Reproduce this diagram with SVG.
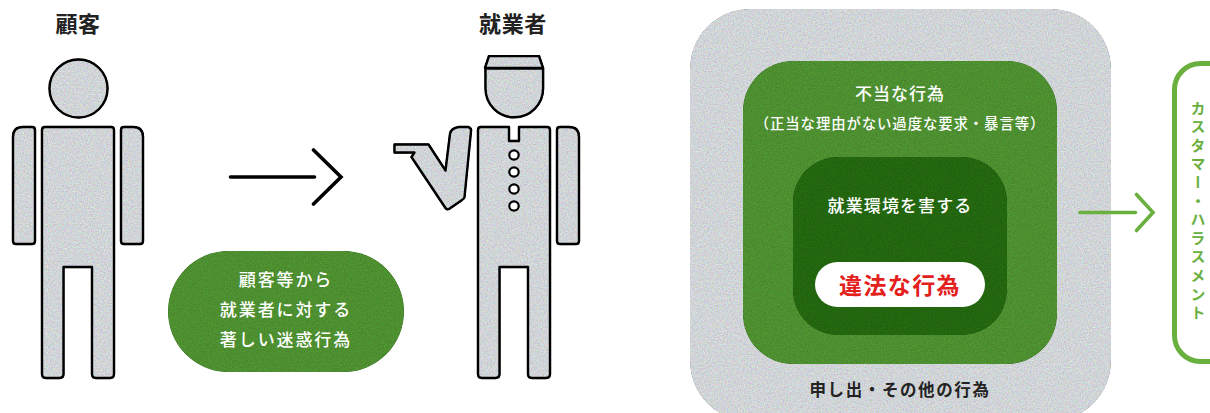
<svg xmlns="http://www.w3.org/2000/svg" width="1210" height="413" viewBox="0 0 1210 413">
<style>
text{font-family:"Noto Sans CJK JP","Noto Sans",sans-serif;text-anchor:middle}
.fig{fill:#d0d4d7;stroke:#000;stroke-width:2.4;stroke-linejoin:round;filter:url(#grain)}
.fig2{fill:#d0d4d7;filter:url(#grain)}
.title{font-size:22px;font-weight:700;fill:#222;letter-spacing:.6px}
.w{fill:#fff;font-weight:500}
.bl{fill:none;stroke:#000;stroke-width:3.6;stroke-linecap:round;stroke-linejoin:miter}
.gr{fill:none;stroke:#69b03e;stroke-width:3.6;stroke-linecap:round;stroke-linejoin:miter}
.mid{fill:#4d8f30;filter:url(#grain)}
.dark{fill:#23660f;filter:url(#grain)}
</style>
<defs>
<filter id="grain" x="-5%" y="-5%" width="110%" height="110%" color-interpolation-filters="sRGB">
<feTurbulence type="fractalNoise" baseFrequency="0.7" numOctaves="2" seed="4" result="n"/>
<feColorMatrix in="n" type="matrix" values="1.3 0 0 0 -0.15  0 1.3 0 0 -0.15  0 0 1.3 0 -0.15  0 0 0 0 1" result="m"/>
<feComposite in="SourceGraphic" in2="m" operator="arithmetic" k1="0.3" k2="0.85" k3="0" k4="0"/>
</filter>
</defs>

<g id="customer">
<text class="title" x="78" y="32">顧客</text>
<circle class="fig" cx="78.500" cy="88.500" r="29"/>
<path class="fig" d="M45 127H111Q114 127 114 130V374Q114 378 110 378H96Q92 378 92 374V267H63.500V374Q63.500 378 59.500 378H46Q42 378 42 374V130Q42 127 45 127Z"/>
<path class="fig" d="M32 127Q35 127 35 130V241Q35 244 32 244H16Q13 244 13 241V137Q13 127 23 127Z"/>
<path class="fig" d="M124 127Q121 127 121 130V241Q121 244 124 244H140Q143 244 143 241V137Q143 127 133 127Z"/>
</g>

<g id="worker">
<text class="title" x="513" y="32">就業者</text>
<path class="fig" d="M489 56H539L543 68H485Z"/>
<path class="fig" d="M485.500 68.500V88.500A28.800 28.800 0 0 0 543.100 88.500V68.500Z"/>
<path class="fig" d="M481 127H509V141H519V127H547Q550 127 550 130V374Q550 378 546 378H532Q528 378 528 374V267H499.500V374Q499.500 378 495.500 378H482Q478 378 478 374V130Q478 127 481 127Z"/>
<circle cx="514" cy="155" r="4.700" fill="#fff" stroke="#000" stroke-width="2.200"/>
<circle cx="514" cy="172" r="4.700" fill="#fff" stroke="#000" stroke-width="2.200"/>
<circle cx="514" cy="189" r="4.700" fill="#fff" stroke="#000" stroke-width="2.200"/>
<circle cx="514" cy="206" r="4.700" fill="#fff" stroke="#000" stroke-width="2.200"/>
<path class="fig" d="M560 127Q557 127 557 130V241Q557 244 560 244H576Q579 244 579 241V137Q579 127 569 127Z"/>
<path class="fig" d="M394.500 144.500H428.500L445.500 170.500L450 134Q451 128 459 127L468 127Q471.500 128 471 131L464.500 197Q464 199 462 200L449 209Q447 210 445.500 208L411.500 157L414.500 152.500H394.500Z"/>
</g>

<g id="summary">
<rect class="mid" x="168" y="251" width="236" height="121" rx="60.500"/>
<text class="w" x="286" y="286" font-size="17" letter-spacing="1.900">顧客等から</text>
<text class="w" x="286" y="316" font-size="17" letter-spacing="1.900">就業者に対する</text>
<text class="w" x="286" y="346" font-size="17" letter-spacing="1.900">著しい迷惑行為</text>
</g>

<g id="other">
<rect class="fig2" x="690" y="9" width="421" height="412" rx="60"/>
<text x="900" y="396" font-size="16.500" font-weight="700" fill="#222" letter-spacing="1.600">申し出・その他の行為</text>
</g>
<g id="improper">
<rect class="mid" x="743" y="61" width="314" height="303" rx="50"/>
<text class="w" x="900" y="100" font-size="17" font-weight="700" letter-spacing="1">不当な行為</text>
<text class="w" x="900" y="129" font-size="14.400" letter-spacing=".9" font-weight="400">（正当な理由がない過度な要求・暴言等）</text>
</g>
<g id="environment">
<rect class="dark" x="793" y="157" width="214" height="178" rx="45"/>
<text class="w" x="900" y="212" font-size="17" letter-spacing="1.100">就業環境を害する</text>
</g>
<g id="illegal">
<rect x="815" y="262" width="170" height="45" rx="22.500" fill="#fff"/>
<text x="900" y="294" font-size="23" font-weight="700" fill="#e3201b" letter-spacing="1.400">違法な行為</text>
</g>
<g id="harassment">
<rect x="1174.500" y="63.500" width="80" height="298" rx="26" fill="#fff" stroke="#69b03e" stroke-width="5"/>
<text x="1198" y="212" font-size="15" font-weight="700" fill="#69b03e" letter-spacing="3.600" style="writing-mode:vertical-rl">カスタマー・ハラスメント</text>
</g>

<g id="connectors">
<path class="bl" d="M230.500 177H314.500M313.500 150L341 177L313.500 204"/>
<path class="gr" d="M1080 212.500H1135.500M1136.500 194.500L1153 212.500L1136.500 230.500"/>
</g>
</svg>
